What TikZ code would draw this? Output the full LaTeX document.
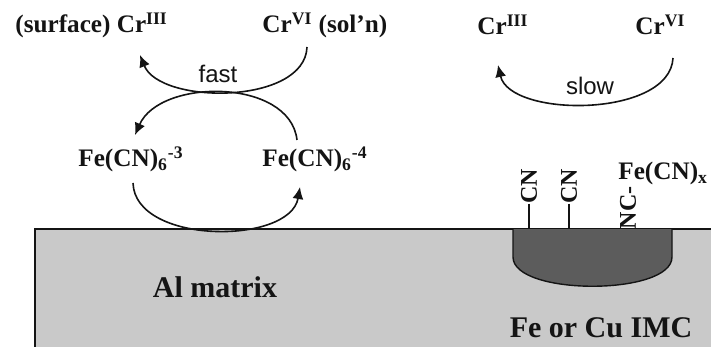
\documentclass[tikz,border=0pt]{standalone}
\usepackage{fontspec}
\setmainfont{Liberation Serif}
\setsansfont{Liberation Sans}
\usetikzlibrary{
    arrows.meta,
    positioning
}
\definecolor{ink}{RGB}{20,20,20}
\definecolor{matrixgray}{RGB}{201,201,201}
\definecolor{imcgray}{RGB}{92,92,92}
\tikzset{
    line cap=round,
    line join=round,
    species/.style={
        font=\fontsize{12.6}{14}\selectfont\bfseries,
        text=ink,
        inner sep=0pt
    },
    bigspecies/.style={
        species,
        font=\fontsize{15}{17}\selectfont\bfseries
    },
    ligand/.style={
        species,
        rotate=90,
        font=\fontsize{12}{14}\selectfont\bfseries
    },
    rate/.style={
        font=\fontsize{12}{14}\selectfont\sffamily,
        text=ink,
        inner sep=0pt
    },
    transfer/.style={
        -{Latex[length=6pt,width=5.5pt]},
        draw=ink,
        line width=0.8pt
    },
    bond/.style={
        draw=ink,
        line width=0.7pt
    }
}

\begin{document}
\begin{tikzpicture}[x=0.5pt, y=-0.5pt]
\useasboundingbox (0,0) rectangle (711,347);

% Substrate
\fill[matrixgray] (35,229) rectangle (711,347);
\draw[ink, line width=0.7pt] (35,347) -- (35,229) -- (711,229);
\draw[ink, line width=0.7pt, fill=imcgray] (513,229) -- (513,257)
    .. controls (513,296) and (672,296) .. (672,257) -- (672,229);
\node[bigspecies, anchor=base] (almatrix) at (215,297) {Al matrix};
\node[bigspecies, anchor=base] (imc) at (601,337) {Fe or Cu IMC};

% Left: mediated reduction
\node[species, anchor=base west] (cr3s) at (15,33) {(surface) Cr\textsuperscript{III}};
\node[species, anchor=base west] (cr6s) at (262,33) {Cr\textsuperscript{VI} (sol'n)};
\node[species, anchor=base west] (fe3) at (78,167) {Fe(CN)\textsubscript{6}\textsuperscript{-3}};
\node[species, anchor=base west] (fe4) at (262,167) {Fe(CN)\textsubscript{6}\textsuperscript{-4}};
\node[rate, anchor=base] (fast) at (218,83) {fast};

\coordinate (a0) at (307,47);
\coordinate (a1) at (140,55);
\coordinate (b0) at (297,140);
\coordinate (b1) at (135,135);
\coordinate (c0) at (133,183);
\coordinate (c1) at (300,187);

\draw[transfer] (a0) .. controls (305,105) and (160,105) .. (a1);
\draw[transfer] (b0) .. controls (290,78) and (160,78) .. (b1);
\draw[transfer] (c0) .. controls (135,245) and (290,245) .. (c1);

% Right: direct reduction
\node[species, anchor=base west] (cr3) at (477,35) {Cr\textsuperscript{III}};
\node[species, anchor=base west] (cr6) at (635,35) {Cr\textsuperscript{VI}};
\node[rate, anchor=base] (slow) at (590,95) {slow};

\coordinate (d0) at (673,58);
\coordinate (d1) at (498,65);
\draw[transfer] (d0) .. controls (670,118) and (510,118) .. (d1);

% Adsorbed cyanide on the IMC
\node[ligand] (cn1) at (529,186) {CN};
\node[ligand] (cn2) at (569,186) {CN};
\node[ligand] (nc) at (628,208) {NC-};
\node[species, anchor=base west] (fecnx) at (618,180) {Fe(CN)\textsubscript{x}};

\coordinate (s1) at (529,229);
\coordinate (s2) at (569,229);
\draw[bond] (cn1.west) -- (s1);
\draw[bond] (cn2.west) -- (s2);

\end{tikzpicture}
\end{document}
